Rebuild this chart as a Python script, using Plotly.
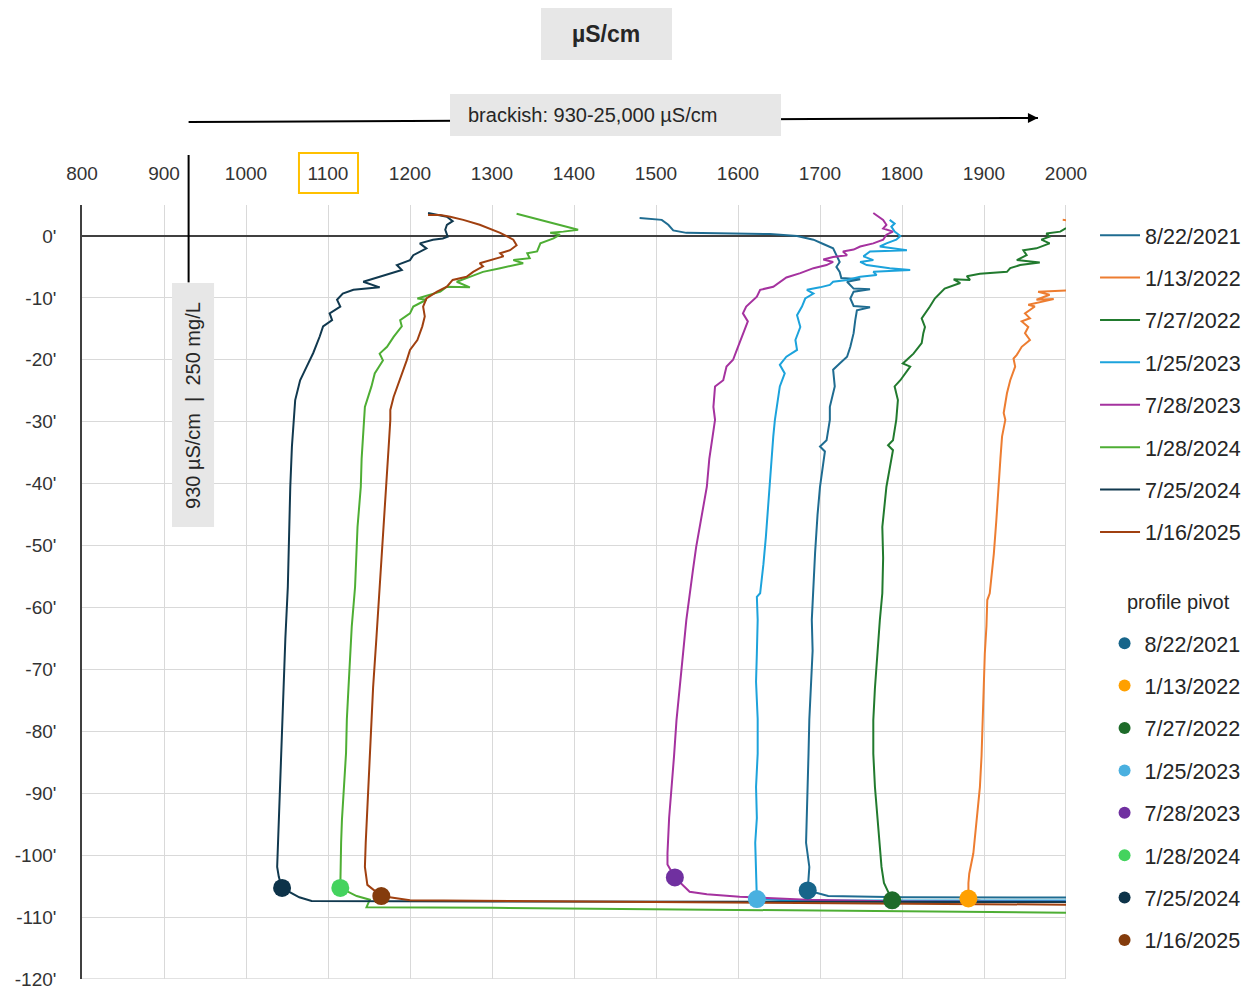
import plotly.graph_objects as go

# ---- profile dates and colours -------------------------------------------
DATES = ["8/22/2021", "1/13/2022", "7/27/2022", "1/25/2023",
         "7/28/2023", "1/28/2024", "7/25/2024", "1/16/2025"]
LINE_COLORS = ["#1F6C91", "#ED7D31", "#217A2E", "#1CA3DC",
               "#A5329F", "#4EAE34", "#11394F", "#A04010"]
PIVOT_COLORS = ["#17658A", "#FFA000", "#1E6B2A", "#4AB0E0",
                "#7030A0", "#44D35E", "#0D3349", "#843C0C"]

# ---- conductivity profiles: depth (ft) / specific conductance (µS/cm) -----
depth_2021_08 = [2.9, 2.6, 1.8, 0.9, 0.5, 0.4, 0.3, 0.0, -0.6, -1.3, -2.0, -3.1, -4.2, -5.0, -5.8, -6.8,
                 -7.0, -7.4, -8.5, -8.6, -9.0, -10.1, -11.3, -11.5, -12.0, -13.6, -15.7, -17.9, -19.5,
                 -20.6, -21.6, -24.3, -27.6, -29.7, -33.0, -34.0, -34.8, -40.5, -45.0, -51.2, -56.0,
                 -62.0, -67.0, -72.8, -78.0, -83.6, -89.0, -94.3, -98.0, -101.9, -105.7, -106.6,
                 -106.8, -106.9]
cond_2021_08 = [1480, 1507, 1515, 1521, 1537, 1578, 1639, 1672, 1692, 1704, 1716, 1720, 1724, 1720, 1724,
                1726, 1749, 1733, 1741, 1761, 1741, 1737, 1741, 1761, 1745, 1743, 1741, 1737, 1733, 1724,
                1716, 1718, 1712, 1712, 1708, 1700, 1706, 1700, 1697, 1694, 1692, 1690, 1691, 1689, 1687,
                1686, 1685, 1684, 1683, 1687, 1685, 1710, 1800, 2600]

depth_2022_01 = [2.6, 2.0, 0.0, -4.0, -8.4, -8.6, -8.8, -9.0, -9.5, -10.3, -10.2, -11.1, -11.4, -12.5,
                 -13.3, -13.8, -14.7, -15.7, -16.8, -17.9, -19.2, -19.8, -21.1, -23.3, -25.4, -28.6,
                 -29.7, -32.4, -36.0, -40.5, -46.0, -51.3, -57.7, -58.8, -63.0, -67.4, -72.0, -78.2,
                 -84.0, -89.0, -94.0, -99.7, -103.0, -104.5, -107.0, -107.5, -107.6]
cond_2022_01 = [1996, 2040, 2120, 2180, 2100, 2080, 2000, 1966, 1980, 1964, 1985, 1954, 1962, 1950, 1956,
                1946, 1954, 1950, 1956, 1946, 1940, 1936, 1938, 1932, 1928, 1924, 1926, 1922, 1920, 1918,
                1915, 1912, 1907, 1904, 1903, 1901, 1900, 1899, 1897, 1895, 1891, 1887, 1882, 1881, 1881,
                1900, 2600]

depth_2022_07 = [2.0, 1.2, 0.7, 0.4, -0.1, -0.6, -1.2, -2.0, -2.3, -3.1, -3.9, -4.3, -4.7, -5.2, -5.8,
                 -6.1, -6.5, -7.1, -7.0, -7.6, -8.5, -9.3, -10.1, -11.4, -12.5, -13.3, -14.7, -15.7,
                 -17.3, -19.0, -20.0, -20.6, -21.1, -23.3, -24.3, -26.5, -29.7, -33.0, -33.8, -34.6,
                 -40.5, -47.0, -52.0, -57.7, -62.0, -67.4, -73.0, -78.2, -83.6, -89.0, -94.3, -98.0,
                 -101.9, -104.5, -107.3, -107.5, -107.6]
cond_2022_07 = [2015, 1999, 1993, 1976, 1980, 1970, 1980, 1964, 1948, 1952, 1940, 1968, 1944, 1932, 1928,
                1895, 1879, 1883, 1863, 1871, 1852, 1846, 1840, 1834, 1828, 1824, 1828, 1826, 1824, 1814,
                1806, 1801, 1810, 1798, 1791, 1795, 1793, 1789, 1783, 1789, 1781, 1776, 1777, 1776, 1773,
                1770, 1767, 1765, 1765, 1767, 1770, 1772, 1775, 1778, 1788, 1810, 2600]

depth_2023_01 = [2.6, 2.0, 1.5, 0.7, 0.0, -0.6, -1.2, -1.7, -2.3, -2.5, -3.3, -3.9, -4.2, -4.7, -5.2,
                 -5.5, -5.8, -6.3, -6.6, -7.1, -7.4, -7.9, -8.3, -8.7, -9.3, -10.1, -11.4, -12.8, -14.7,
                 -16.8, -18.4, -19.5, -20.8, -22.2, -24.3, -27.6, -29.7, -32.4, -36.0, -40.5, -44.0,
                 -48.6, -53.0, -57.7, -58.3, -62.0, -67.4, -72.0, -78.0, -83.6, -89.0, -94.0, -98.0,
                 -101.9, -104.5, -107.1, -107.3, -107.4]
cond_2023_01 = [1785, 1791, 1787, 1791, 1798, 1793, 1781, 1773, 1806, 1761, 1753, 1765, 1749, 1757, 1785,
                1810, 1765, 1769, 1749, 1733, 1716, 1712, 1700, 1684, 1692, 1682, 1678, 1672, 1676, 1670,
                1672, 1659, 1651, 1657, 1651, 1647, 1645, 1643, 1641, 1639, 1637, 1634, 1631, 1627, 1623,
                1624, 1623, 1622, 1624, 1624, 1622, 1623, 1621, 1622, 1623, 1623, 1660, 2600]

depth_2023_07 = [3.7, 2.6, 1.8, 1.2, 0.7, 0.2, -0.6, -1.2, -1.7, -2.2, -2.5, -3.1, -3.4, -3.8, -4.2,
                 -4.7, -5.2, -5.6, -6.0, -6.7, -7.4, -8.2, -8.7, -9.8, -11.4, -12.5, -13.8, -15.7, -17.9,
                 -20.0, -21.1, -23.3, -24.3, -27.6, -29.7, -32.4, -36.0, -40.5, -45.0, -50.2, -54.0,
                 -57.7, -62.0, -67.4, -73.0, -78.2, -84.0, -89.0, -94.0, -99.7, -101.5, -103.6, -105.9,
                 -106.3, -106.7, -107.2, -107.5, -107.6]
cond_2023_07 = [1765, 1777, 1781, 1777, 1789, 1781, 1777, 1765, 1749, 1741, 1728, 1733, 1716, 1704, 1716,
                1708, 1692, 1684, 1676, 1659, 1651, 1643, 1627, 1623, 1610, 1606, 1612, 1606, 1600, 1594,
                1586, 1582, 1572, 1570, 1572, 1569, 1565, 1562, 1556, 1549, 1545, 1541, 1537, 1533, 1529,
                1525, 1522, 1519, 1516, 1514, 1514, 1523, 1541, 1562, 1602, 1684, 1800, 2600]

depth_2024_01 = [3.6, 2.9, 1.8, 1.4, 1.0, 0.7, 0.5, 0.2, -0.4, -1.2, -2.5, -2.8, -3.6, -3.9, -4.4,
                 -5.2, -5.8, -6.6, -7.4, -8.3, -8.2, -9.0, -9.7, -10.1, -10.3, -11.4, -12.5, -13.6,
                 -14.6, -16.3, -17.9, -19.0, -20.1, -22.2, -24.3, -27.6, -29.7, -31.9, -36.0, -40.5,
                 -47.0, -56.7, -63.0, -72.9, -78.0, -83.5, -89.0, -94.3, -98.0, -101.9, -105.3, -106.6,
                 -107.2, -108.4, -108.5, -109.3, -109.4]
cond_2024_01 = [1330, 1350, 1383, 1391, 1405, 1387, 1371, 1383, 1375, 1359, 1355, 1343, 1346, 1326, 1338,
                1310, 1289, 1273, 1257, 1273, 1245, 1237, 1220, 1209, 1220, 1204, 1200, 1188, 1190, 1180,
                1172, 1163, 1167, 1157, 1153, 1145, 1144, 1143, 1141, 1140, 1136, 1133, 1129, 1125, 1123,
                1122, 1119, 1117, 1116, 1115, 1115, 1135, 1151, 1147, 1300, 2000, 2600]

depth_2024_07 = [3.7, 3.1, 2.4, 1.8, 1.0, -0.1, -0.4, -0.6, -1.2, -2.0, -3.1, -3.9, -4.7, -5.5, -6.6,
                 -7.4, -8.3, -8.7, -9.3, -10.3, -11.4, -12.5, -13.6, -14.6, -16.2, -18.9, -21.1, -23.3,
                 -26.5, -29.7, -34.0, -40.5, -48.0, -56.7, -65.0, -72.0, -83.5, -92.0, -98.0, -101.9,
                 -103.5, -105.3, -106.8, -107.4, -107.5, -107.6]
cond_2024_07 = [1222, 1245, 1252, 1245, 1243, 1246, 1240, 1228, 1212, 1220, 1204, 1200, 1184, 1190, 1163,
                1143, 1163, 1131, 1118, 1111, 1115, 1102, 1105, 1094, 1090, 1082, 1074, 1066, 1060, 1058,
                1056, 1054, 1053, 1051, 1048, 1046, 1043, 1041, 1039, 1038, 1040, 1044, 1065, 1080, 1300,
                2600]

depth_2025_01 = [3.4, 3.4, 3.1, 2.6, 1.8, 0.5, -0.6, -1.5, -2.3, -2.8, -3.3, -3.9, -4.4, -4.9, -5.8,
                 -6.6, -7.1, -8.2, -9.0, -10.1, -11.4, -13.0, -14.6, -16.8, -18.4, -20.1, -22.2, -23.8,
                 -26.0, -28.1, -29.7, -34.0, -40.5, -48.0, -56.7, -65.0, -72.9, -78.0, -83.5, -89.0,
                 -94.3, -98.0, -101.9, -103.0, -104.8, -106.6, -107.3, -108.0, -108.0]
cond_2025_01 = [1222, 1237, 1249, 1265, 1285, 1310, 1326, 1330, 1322, 1310, 1314, 1298, 1285, 1289, 1277,
                1269, 1252, 1245, 1233, 1220, 1216, 1218, 1215, 1209, 1200, 1196, 1190, 1186, 1180, 1176,
                1176, 1174, 1171, 1167, 1163, 1159, 1155, 1153, 1151, 1149, 1147, 1146, 1145, 1146, 1148,
                1165, 1200, 2000, 2600]

PROFILE_DEPTHS = [depth_2021_08, depth_2022_01, depth_2022_07, depth_2023_01,
                  depth_2023_07, depth_2024_01, depth_2024_07, depth_2025_01]
PROFILE_CONDS = [cond_2021_08, cond_2022_01, cond_2022_07, cond_2023_01,
                 cond_2023_07, cond_2024_01, cond_2024_07, cond_2025_01]

# ---- profile pivot points (base of the fresh/brackish lens) -------------
PIVOT_COND = [1685, 1881, 1788, 1623, 1523, 1115, 1044, 1165]
PIVOT_DEPTH = [-105.7, -107.0, -107.3, -107.1, -103.6, -105.3, -105.3, -106.6]

# ---- reference values and axis ticks ------------------------------------
THRESHOLD_US = 930
BRACKISH_HI = 25000
X_RANGE = [800, 2000]
Y_RANGE = [-120, 5]
X_TICKS = list(range(800, 2001, 100))
Y_TICKS = list(range(-120, 1, 10))
Y_TICKTEXT = [f"{v}'" for v in Y_TICKS]

FONT = "Liberation Sans, Arial, sans-serif"
TXT = "#262626"
GRID = "#D9D9D9"

fig = go.Figure()

for i, name in enumerate(DATES):
    fig.add_trace(go.Scatter(
        x=PROFILE_CONDS[i], y=PROFILE_DEPTHS[i], mode="lines", name=name,
        line=dict(color=LINE_COLORS[i], width=2),
        legend="legend", legendgroup=f"l{i}",
    ))

for i, name in enumerate(DATES):
    fig.add_trace(go.Scatter(
        x=[PIVOT_COND[i]], y=[PIVOT_DEPTH[i]], mode="markers", name=name,
        marker=dict(color=PIVOT_COLORS[i], size=18),
        legend="legend2", legendgroup=f"p{i}",
    ))


def px_of(v):
    """conductivity value -> paper x"""
    return (v - X_RANGE[0]) / (X_RANGE[1] - X_RANGE[0])


thr = px_of(THRESHOLD_US)

shapes = [
    # edge gridlines (bottom and right border of the grid)
    dict(type="line", xref="paper", yref="y", x0=0, x1=1, y0=Y_RANGE[0], y1=Y_RANGE[0],
         line=dict(color=GRID, width=1.5), layer="below"),
    dict(type="line", xref="x", yref="paper", x0=X_RANGE[1], x1=X_RANGE[1], y0=0, y1=1,
         line=dict(color=GRID, width=2), layer="below"),
    # brackish range arrow shaft
    dict(type="line", xref="paper", yref="paper", x0=thr, y0=1.1072, x1=0.9715, y1=1.1124,
         line=dict(color="black", width=2)),
    # brackish label box
    dict(type="rect", xref="paper", yref="paper", x0=0.3740, x1=0.7104, y0=1.0891, y1=1.1434,
         fillcolor="#E7E7E7", line=dict(width=0)),
    # unit title box
    dict(type="rect", xref="paper", yref="paper", x0=0.4665, x1=0.5996, y0=1.1873, y1=1.2545,
         fillcolor="#E7E7E7", line=dict(width=0)),
    # threshold marker line
    dict(type="line", xref="paper", yref="paper", x0=thr, x1=thr, y0=1.0646, y1=0.90,
         line=dict(color="black", width=2)),
    # threshold label box
    dict(type="rect", xref="paper", yref="paper", x0=0.0915, x1=0.1342, y0=0.5840, y1=0.8992,
         fillcolor="#E7E7E7", line=dict(width=0)),
    # highlight around the 1100 tick
    dict(type="rect", xref="paper", yref="paper", x0=0.2205, x1=0.2805, y0=1.0155, y1=1.0672,
         fillcolor="rgba(0,0,0,0)", line=dict(color="#FFC000", width=2)),
]

annotations = [
    dict(xref="paper", yref="paper", x=0.9715, y=1.1124, ax=-40, ay=0, text="",
         showarrow=True, arrowhead=2, arrowsize=1, arrowwidth=2, arrowcolor="black"),
    dict(xref="paper", yref="paper", x=0.5330, y=1.2209, text="<b>µS/cm</b>", showarrow=False,
         xanchor="center", yanchor="middle", font=dict(family=FONT, size=23, color=TXT)),
    dict(xref="paper", yref="paper", x=0.3902, y=1.1163,
         text=f"brackish: {THRESHOLD_US}-{BRACKISH_HI:,} µS/cm", showarrow=False,
         xanchor="left", yanchor="middle", font=dict(family=FONT, size=20, color=TXT)),
    dict(xref="paper", yref="paper", x=0.1128, y=0.7416, text=f"{THRESHOLD_US} µS/cm  |  250 mg/L",
         showarrow=False, textangle=-90, xanchor="center", yanchor="middle",
         font=dict(family=FONT, size=20, color=TXT)),
    # heading of the pivot legend
    dict(xref="paper", yref="paper", x=1.1148, y=0.4871, text="profile pivot", showarrow=False,
         xanchor="center", yanchor="middle", font=dict(family=FONT, size=20, color=TXT)),
]

fig.update_layout(
    width=1250, height=987,
    margin=dict(l=82, r=184, t=205, b=8, autoexpand=False),
    paper_bgcolor="white", plot_bgcolor="white",
    font=dict(family=FONT, color=TXT),
    xaxis=dict(side="top", range=X_RANGE, tickvals=X_TICKS, showgrid=True, gridcolor=GRID,
               gridwidth=1, zeroline=False, showline=False, ticks="",
               ticklabelstandoff=20, tickfont=dict(size=19, color="#333333")),
    yaxis=dict(range=Y_RANGE, tickvals=Y_TICKS, ticktext=Y_TICKTEXT, showgrid=True,
               gridcolor=GRID, gridwidth=1, zeroline=True, zerolinecolor="#404040",
               zerolinewidth=1.5, showline=True, linecolor="#404040", linewidth=1.5, ticks="",
               ticklabelstandoff=20, ticklabeloverflow="allow",
               tickfont=dict(size=19, color="#333333")),
    legend=dict(x=1.0295, y=0.9875, xanchor="left", yanchor="top", bgcolor="rgba(0,0,0,0)",
                tracegroupgap=11.45, itemwidth=40, font=dict(size=21.5, color=TXT)),
    legend2=dict(x=1.0392, y=0.4603, xanchor="left", yanchor="top", bgcolor="rgba(0,0,0,0)",
                 tracegroupgap=11.45, itemsizing="constant",
                 font=dict(size=21.5, color=TXT)),
    shapes=shapes,
    annotations=annotations,
    showlegend=True,
)

fig.write_html("out.html")
